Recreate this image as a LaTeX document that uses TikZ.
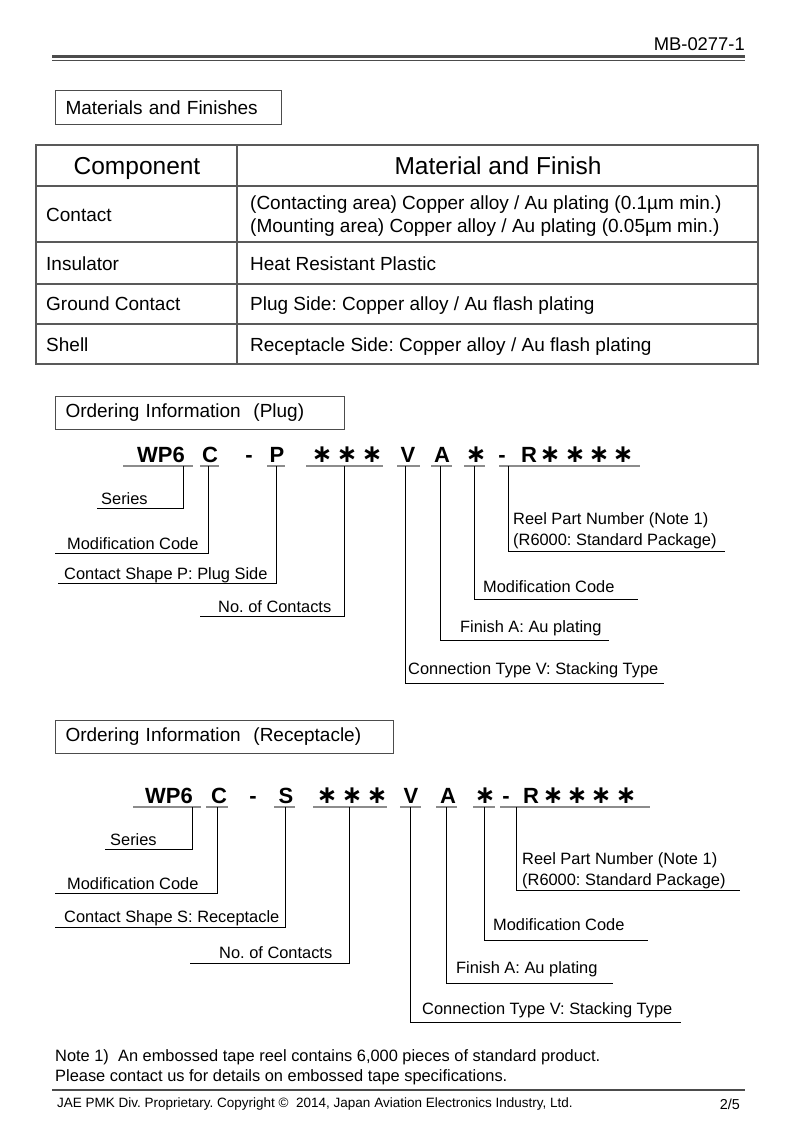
\documentclass[tikz,border=0pt]{standalone}
\usepackage{fontspec}
\setmainfont{Liberation Sans}
\newfontfamily\starfont{DejaVu Sans}
\usetikzlibrary{positioning}
\frenchspacing

\begin{document}
\begin{tikzpicture}[
    x=1pt, y=-1pt,
    every node/.style={inner sep=0pt},
    body/.style={font=\fontsize{19}{23}\selectfont, anchor=base west},
    head/.style={font=\fontsize{24.5}{28}\selectfont, anchor=base},
    lab/.style={font=\fontsize{16.4}{21}\selectfont, anchor=base west},
    code/.style={font=\fontsize{22}{26}\selectfont\bfseries, anchor=base},
    star/.style={font=\fontsize{25}{28}\starfont\bfseries, anchor=base},
    secbox/.style={draw=black!70, line width=1pt, anchor=north west, minimum height=33pt,
                   inner xsep=10pt, align=left, font=\fontsize{19}{23}\selectfont},
    grid/.style={draw=black!65, line width=1.3pt},
    uline/.style={draw=black!45, line width=1.8pt},
    leader/.style={draw=black, line width=0.9pt},
    hrule/.style={draw=black!70, line width=#1}
]
\useasboundingbox (0,0) rectangle (793,1123);

% page header
\node[font=\fontsize{18.4}{22}\selectfont, anchor=base east] (docno) at (745,50.6) {MB-0277-1};
\draw[hrule=2.2pt] (52,56.5) -- (745,56.5);
\draw[hrule=1.3pt] (52,60.5) -- (745,60.5);

% materials and finishes
\node[secbox, text width=206pt, minimum height=34pt] (matBox) at (55,90) {Materials and Finishes};
\draw[grid] (36,145) rectangle (758,364);
\foreach \y in {186,242,284,324} \draw[grid] (36,\y) -- (758,\y);
\draw[grid] (237,145) -- (237,364);
\node[head] (hComp) at (137,174.8) {Component};
\node[head] (hMat) at (498,174.8) {Material and Finish};
\node[body] (rCon) at (46,222) {Contact};
\node[body] (mCon1) at (250,210) {(Contacting area) Copper alloy / Au plating (0.1µm min.)};
\node[body] (mCon2) at (250,233) {(Mounting area) Copper alloy / Au plating (0.05µm min.)};
\node[body] (rIns) at (46,270) {Insulator};
\node[body] (mIns) at (250,270) {Heat Resistant Plastic};
\node[body] (rGnd) at (46,310) {Ground Contact};
\node[body] (mGnd) at (250,310) {Plug Side: Copper alloy / Au flash plating};
\node[body] (rShl) at (46,351) {Shell};
\node[body] (mShl) at (250,351) {Receptacle Side: Copper alloy / Au flash plating};

% ordering information, plug
\node[secbox, text width=269pt] (plugBox) at (55,396) {Ordering Information\ \ (Plug)};
\node[code] (pWP) at (161,462) {WP6};
\node[code] (pC) at (210,462) {C};
\node[code] (pDa) at (249,462) {-};
\node[code] (pP) at (277,462) {P};
\foreach \x [count=\i] in {322,347,372} \node[star] (pN\i) at (\x,462) {∗};
\node[code] (pV) at (408,462) {V};
\node[code] (pA) at (442,462) {A};
\node[star] (pM) at (476,462) {∗};
\node[code] (pDb) at (502,462) {-};
\node[code] (pR) at (529,462) {R};
\foreach \x [count=\i] in {550,575,599,623} \node[star] (pR\i) at (\x,462) {∗};
\foreach \a/\b in {123/193,200/219,267/285,306/383,397/420,431/452,464/485,499/640}
  \draw[uline] (\a,466) -- (\b,466);

\node[lab] (pSerL) at (101,504) {Series};
\node[lab] (pModL) at (67,549) {Modification Code};
\node[lab] (pShpL) at (64,579) {Contact Shape P: Plug Side};
\node[lab] (pNumL) at (218,612) {No. of Contacts};
\node[lab, align=left] (pReelL) at (513,545) {Reel Part Number (Note 1)\\(R6000: Standard Package)};
\node[lab] (pMod2L) at (483,592) {Modification Code};
\node[lab] (pFinL) at (460,632) {Finish A: Au plating};
\node[lab] (pConL) at (408,674) {Connection Type V: Stacking Type};
\foreach \n/\x/\y/\e in {Ser/183/508/97, Mod/208/553/55, Shp/276/583/58, Num/344/616/200,
                         Reel/508/551/725, Mod2/474/599/638, Fin/440/640/609, Con/405/683/664} {
  \coordinate (p\n top) at (\x,466);
  \coordinate (p\n end) at (\e,\y);
  \draw[leader] (p\n top) |- (p\n end);
}

% ordering information, receptacle
\node[secbox, text width=318pt] (rcptBox) at (55,720) {Ordering Information\ \ (Receptacle)};
\node[code] (sWP) at (169,803) {WP6};
\node[code] (sC) at (219,803) {C};
\node[code] (sDa) at (253,803) {-};
\node[code] (sS) at (286,803) {S};
\foreach \x [count=\i] in {327,352,377} \node[star] (sN\i) at (\x,803) {∗};
\node[code] (sV) at (411,803) {V};
\node[code] (sA) at (448,803) {A};
\node[star] (sM) at (485,803) {∗};
\node[code] (sDb) at (506,803) {-};
\node[code] (sR) at (531,803) {R};
\foreach \x [count=\i] in {553,577,601,626} \node[star] (sR\i) at (\x,803) {∗};
\foreach \a/\b in {133/201,206/228,274/295,313/387,400/421,436/457,473/495,500/650}
  \draw[uline] (\a,807) -- (\b,807);

\node[lab] (sSerL) at (110,845) {Series};
\node[lab] (sModL) at (67,889) {Modification Code};
\node[lab] (sShpL) at (64,922) {Contact Shape S: Receptacle};
\node[lab] (sNumL) at (219,958) {No. of Contacts};
\node[lab, align=left] (sReelL) at (522,885) {Reel Part Number (Note 1)\\(R6000: Standard Package)};
\node[lab] (sMod2L) at (493,930) {Modification Code};
\node[lab] (sFinL) at (456,973) {Finish A: Au plating};
\node[lab] (sConL) at (422,1014) {Connection Type V: Stacking Type};
\foreach \n/\x/\y/\e in {Ser/192/849/105, Mod/217/893/55, Shp/285/927/55, Num/349/963/190,
                         Reel/516/890/740, Mod2/484/940/648, Fin/446/983/613, Con/410/1022/681} {
  \coordinate (s\n top) at (\x,807);
  \coordinate (s\n end) at (\e,\y);
  \draw[leader] (s\n top) |- (s\n end);
}

% note and footer
\node[lab] (note1) at (55,1061) {Note 1)\ \ An embossed tape reel contains 6,000 pieces of standard product.};
\node[lab] (note2) at (55,1081) {Please contact us for details on embossed tape specifications.};
\draw[hrule=2.5pt] (52,1090) -- (745,1090);
\node[font=\fontsize{13.5}{16}\selectfont, anchor=base west] (foot) at (57,1107)
  {JAE PMK Div. Proprietary. Copyright ©\ \ 2014, Japan Aviation Electronics Industry, Ltd.};
\node[font=\fontsize{14.4}{17}\selectfont, anchor=base east] (page) at (740,1109) {2/5};
\end{tikzpicture}
\end{document}
